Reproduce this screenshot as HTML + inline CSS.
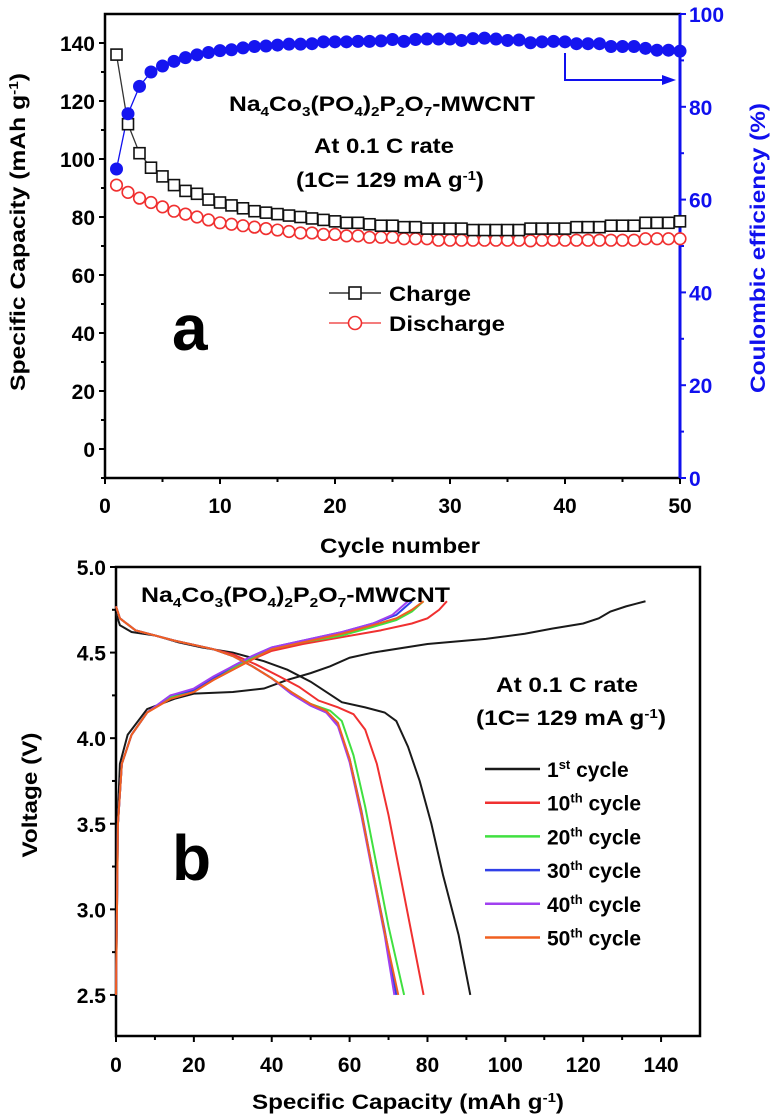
<!DOCTYPE html>
<html><head><meta charset="utf-8"><style>
html,body{margin:0;padding:0;background:#fff;}
svg{display:block;font-family:"Liberation Sans",Arial,sans-serif;font-weight:bold;}
</style></head><body>
<svg id="fig" width="772" height="1117" viewBox="0 0 772 1117" xmlns="http://www.w3.org/2000/svg">
<g id="pa"></g>
<g id="pb"></g>
</svg>
<script>
// ---- Panel a data ----
const cycles = Array.from({length:50},(_,i)=>i+1);
const chargeCap = [136,112,102,97,94,91,89,88,86,85,84,83,82,81.5,81,80.5,80,79.5,79,78.5,78,78,77.5,77,77,76.5,76.5,76,76,76,76,75.5,75.5,75.5,75.5,75.5,76,76,76,76,76.5,76.5,76.5,77,77,77,78,78,78,78.5];
const dischargeCap = [91,88.5,86.5,85,83.5,82,81,80,79,78,77.5,77,76.5,76,75.5,75,74.5,74.5,74,74,73.5,73.5,73,73,73,72.5,72.5,72.5,72,72,72,72,72,72,72,72,71.8,72,72,72,72,72,72,72,72,72,72.5,72.5,72.5,72.5];
const coulombicEff = [66.6,78.5,84.4,87.5,88.8,89.8,90.6,91.2,91.7,92.1,92.3,92.7,93,93.1,93.3,93.5,93.5,93.6,94,94,94,94.1,94.1,94.2,94.5,94.1,94.5,94.6,94.6,94.6,94.3,94.7,94.8,94.6,94.3,94.4,93.8,94,94.1,94,93.6,93.6,93.6,93,93,93,92.6,92.2,92.2,92];
const xTicksA = [0,10,20,30,40,50];
const yTicksL = [0,20,40,60,80,100,120,140];
const yTicksR = [0,20,40,60,80,100];

// ---- Panel b data: [capacity, voltage] pairs ----
const cycleNames = ["1st","10th","20th","30th","40th","50th"];
const cycleColors = ["#1a1a1a","#f03030","#40e040","#3040e8","#a040f0","#f06020"];
const charge1 = [[0,2.5],[0.4,3.5],[1,3.85],[3,4.02],[8,4.17],[15,4.23],[20,4.26],[30,4.27],[38,4.29],[44,4.34],[50,4.38],[55,4.42],[60,4.47],[66,4.5],[80,4.55],[95,4.58],[105,4.61],[112,4.64],[120,4.67],[124,4.7],[127,4.74],[131,4.77],[136,4.8]];
const charge10 = [[0,2.5],[0.5,3.5],[1.5,3.85],[4,4.02],[8,4.15],[14,4.23],[20,4.27],[25,4.34],[30,4.4],[35,4.46],[40,4.51],[48,4.55],[58,4.59],[68,4.63],[76,4.67],[80,4.7],[83,4.75],[85,4.8]];
const charge20 = [[0,2.5],[0.5,3.5],[1.5,3.85],[4,4.02],[8,4.15],[14,4.24],[20,4.28],[25,4.35],[30,4.41],[35,4.47],[40,4.52],[48,4.56],[58,4.6],[66,4.65],[72,4.69],[76,4.74],[79,4.8]];
const charge30 = [[0,2.5],[0.5,3.5],[1.5,3.85],[4,4.02],[8,4.15],[14,4.25],[20,4.28],[25,4.35],[30,4.42],[35,4.48],[40,4.53],[48,4.57],[58,4.62],[66,4.67],[72,4.72],[76,4.8]];
const charge40 = [[0,2.5],[0.5,3.5],[1.5,3.85],[4,4.02],[8,4.15],[14,4.25],[20,4.29],[25,4.36],[30,4.42],[35,4.48],[40,4.53],[48,4.57],[58,4.62],[66,4.67],[71,4.72],[75,4.8]];
const charge50 = [[0,2.5],[0.5,3.5],[1.5,3.85],[4,4.02],[8,4.15],[14,4.23],[20,4.27],[25,4.34],[30,4.4],[35,4.46],[40,4.52],[48,4.56],[58,4.61],[66,4.66],[72,4.7],[76,4.75],[79,4.8]];
const discharge1 = [[0,4.73],[1,4.66],[4,4.62],[10,4.6],[16,4.56],[22,4.53],[30,4.5],[38,4.45],[44,4.4],[50,4.33],[54,4.27],[58,4.21],[64,4.18],[69,4.15],[72,4.1],[75,3.95],[78,3.75],[81,3.5],[84,3.2],[88,2.85],[91,2.5]];
const discharge10 = [[0,4.77],[1,4.7],[5,4.63],[15,4.57],[25,4.52],[30,4.49],[36,4.43],[42,4.36],[47,4.3],[52,4.22],[57,4.18],[61,4.14],[64,4.05],[67,3.85],[70,3.55],[73,3.2],[76,2.85],[79,2.5]];
const discharge20 = [[0,4.77],[1,4.7],[5,4.63],[15,4.57],[25,4.52],[30,4.48],[35,4.42],[40,4.35],[45,4.27],[50,4.2],[55,4.16],[58,4.1],[61,3.9],[64,3.6],[67,3.25],[70,2.9],[74,2.5]];
const discharge30 = [[0,4.77],[1,4.7],[5,4.63],[15,4.57],[25,4.52],[30,4.48],[35,4.42],[40,4.35],[45,4.26],[50,4.19],[54,4.15],[57,4.08],[60,3.88],[63,3.58],[66,3.22],[69,2.88],[72,2.5]];
const discharge40 = [[0,4.77],[1,4.7],[5,4.63],[15,4.57],[25,4.52],[30,4.48],[35,4.42],[40,4.35],[45,4.26],[50,4.19],[54,4.15],[57,4.07],[60,3.86],[63,3.55],[66,3.2],[69,2.85],[71.5,2.5]];
const discharge50 = [[0,4.77],[1,4.7],[5,4.63],[15,4.57],[25,4.52],[30,4.48],[35,4.42],[40,4.35],[45,4.27],[50,4.2],[54,4.16],[57,4.09],[60,3.88],[63,3.57],[66,3.22],[69,2.87],[72.5,2.5]];
const xTicksB = [0,20,40,60,80,100,120,140];
const yTicksB = [2.5,3.0,3.5,4.0,4.5,5.0];

const NS="http://www.w3.org/2000/svg";
function mk(parent,tag,attrs,text){const e=document.createElementNS(NS,tag);for(const k in attrs)e.setAttribute(k,attrs[k]);if(text!==undefined)e.textContent=text;parent.appendChild(e);return e;}
const TF=21;

// ---------- Panel A ----------
const pa=document.getElementById('pa');
const ax0=105, ax1=680, ay0=478, ay1=14;
const xA=v=>ax0+(v-0)/50*(ax1-ax0);
const yL=v=>ay0-(v+10)/160*(ay0-ay1);
const yR=v=>ay0-v/100*(ay0-ay1);
let e;
e=mk(pa,'rect',{x:ax0,y:ay1,width:ax1-ax0,height:ay0-ay1,fill:'none',stroke:'#000','stroke-width':2.5});

e=mk(pa,'line',{x1:ax1,y1:ay1,x2:ax1,y2:ay0,stroke:'#1010ee','stroke-width':3});

xTicksA.forEach(t=>{
  mk(pa,'line',{x1:xA(t),y1:ay0,x2:xA(t),y2:ay0+6,stroke:'#000','stroke-width':2});
  e=mk(pa,'text',{x:xA(t),y:513,'text-anchor':'middle','font-size':TF},String(t));
  
});
for(let t=5;t<50;t+=10) mk(pa,'line',{x1:xA(t),y1:ay0,x2:xA(t),y2:ay0+4,stroke:'#000','stroke-width':2});
yTicksL.forEach(t=>{
  mk(pa,'line',{x1:ax0-6,y1:yL(t),x2:ax0,y2:yL(t),stroke:'#000','stroke-width':2});
  e=mk(pa,'text',{x:ax0-10,y:yL(t)+8,'text-anchor':'end','font-size':TF},String(t));
  
});
for(let t=-10;t<150;t+=20) mk(pa,'line',{x1:ax0-4,y1:yL(t),x2:ax0,y2:yL(t),stroke:'#000','stroke-width':2});
yTicksR.forEach(t=>{
  mk(pa,'line',{x1:ax1,y1:yR(t),x2:ax1+6,y2:yR(t),stroke:'#1010ee','stroke-width':2});
  e=mk(pa,'text',{x:ax1+9,y:yR(t)+8,'font-size':TF,fill:'#1010ee'},String(t));
  
});
for(let t=10;t<100;t+=20) mk(pa,'line',{x1:ax1,y1:yR(t),x2:ax1+4,y2:yR(t),stroke:'#1010ee','stroke-width':2});
e=mk(pa,'text',{x:400,y:553,'text-anchor':'middle','font-size':TF,textLength:160,lengthAdjust:'spacingAndGlyphs'},'Cycle number');

e=mk(pa,'text',{x:0,y:0,'text-anchor':'middle','font-size':TF,transform:'translate(25,232) rotate(-90)',textLength:318,lengthAdjust:'spacingAndGlyphs'});
e.innerHTML='Specific Capacity (mAh g<tspan font-size="13" dy="-7">-1</tspan><tspan dy="7">)</tspan>';

e=mk(pa,'text',{x:0,y:0,'text-anchor':'middle','font-size':TF,fill:'#1010ee',transform:'translate(765,248) rotate(-90)',textLength:290,lengthAdjust:'spacingAndGlyphs'},'Coulombic efficiency (%)');


function poly(parent,pts,color,w){return mk(parent,'polyline',{points:pts.map(p=>p.join(',')).join(' '),fill:'none',stroke:color,'stroke-width':w});}
e=poly(pa,cycles.map((c,i)=>[xA(c),yL(chargeCap[i])]),'#333',1.3);

e=poly(pa,cycles.map((c,i)=>[xA(c),yL(dischargeCap[i])]),'#f05050',1.3);

e=poly(pa,cycles.map((c,i)=>[xA(c),yR(coulombicEff[i])]),'#1010ee',1.3);

cycles.forEach((c,i)=>{
  e=mk(pa,'circle',{cx:xA(c),cy:yL(dischargeCap[i]),r:5.8,fill:'#fff',stroke:'#f03030','stroke-width':1.6});
  
});
cycles.forEach((c,i)=>{
  e=mk(pa,'rect',{x:xA(c)-5.5,y:yL(chargeCap[i])-5.5,width:11,height:11,fill:'#fff',stroke:'#111','stroke-width':1.6});
  
});
cycles.forEach((c,i)=>{
  e=mk(pa,'circle',{cx:xA(c),cy:yR(coulombicEff[i]),r:6.5,fill:'#1515f0'});
  
});
e=mk(pa,'polyline',{points:'565,53 565,80 668,80',fill:'none',stroke:'#1010ee','stroke-width':2});

mk(pa,'polygon',{points:'676,80 662,75 662,85',fill:'#1010ee'});
e=mk(pa,'text',{x:229,y:111,'font-size':TF,textLength:306,lengthAdjust:'spacingAndGlyphs'});
e.innerHTML='Na<tspan font-size="13" dy="5">4</tspan><tspan dy="-5">Co</tspan><tspan font-size="13" dy="5">3</tspan><tspan dy="-5">(PO</tspan><tspan font-size="13" dy="5">4</tspan><tspan dy="-5">)</tspan><tspan font-size="13" dy="5">2</tspan><tspan dy="-5">P</tspan><tspan font-size="13" dy="5">2</tspan><tspan dy="-5">O</tspan><tspan font-size="13" dy="5">7</tspan><tspan dy="-5">-MWCNT</tspan>';

e=mk(pa,'text',{x:384,y:153,'text-anchor':'middle','font-size':TF,textLength:140,lengthAdjust:'spacingAndGlyphs'},'At 0.1 C rate');

e=mk(pa,'text',{x:296,y:187,'font-size':TF,textLength:188,lengthAdjust:'spacingAndGlyphs'});
e.innerHTML='(1C= 129 mA g<tspan font-size="13" dy="-7">-1</tspan><tspan dy="7">)</tspan>';

mk(pa,'line',{x1:329,y1:293,x2:381,y2:293,stroke:'#333','stroke-width':1.5});
e=mk(pa,'rect',{x:349,y:287,width:12,height:12,fill:'#fff',stroke:'#111','stroke-width':1.6});

e=mk(pa,'text',{x:389,y:301,'font-size':TF,textLength:82,lengthAdjust:'spacingAndGlyphs'},'Charge');

mk(pa,'line',{x1:329,y1:323,x2:381,y2:323,stroke:'#f05050','stroke-width':1.5});
e=mk(pa,'circle',{cx:355,cy:323,r:6.5,fill:'#fff',stroke:'#f03030','stroke-width':1.6});

e=mk(pa,'text',{x:389,y:331,'font-size':TF,textLength:116,lengthAdjust:'spacingAndGlyphs'},'Discharge');

e=mk(pa,'text',{x:172,y:350,'font-size':64},'a');


// ---------- Panel B ----------
const pb=document.getElementById('pb');
const bx0=116, bx1=700, by0=1036, by1=567;
const xB=v=>bx0+v/150*(bx1-bx0);
const yB=v=>by0-(v-2.26)/(5.0-2.26)*(by0-by1);
e=mk(pb,'rect',{x:bx0,y:by1,width:bx1-bx0,height:by0-by1,fill:'none',stroke:'#000','stroke-width':2.5});

xTicksB.forEach(t=>{
  mk(pb,'line',{x1:xB(t),y1:by0,x2:xB(t),y2:by0+6,stroke:'#000','stroke-width':2});
  e=mk(pb,'text',{x:xB(t),y:1072,'text-anchor':'middle','font-size':TF},String(t));
  
});
for(let t=10;t<150;t+=20) mk(pb,'line',{x1:xB(t),y1:by0,x2:xB(t),y2:by0+4,stroke:'#000','stroke-width':2});
yTicksB.forEach(t=>{
  mk(pb,'line',{x1:bx0-6,y1:yB(t),x2:bx0,y2:yB(t),stroke:'#000','stroke-width':2});
  e=mk(pb,'text',{x:bx0-10,y:yB(t)+8,'text-anchor':'end','font-size':TF},t.toFixed(1));
  
});
for(let t=2.75;t<5;t+=0.5) mk(pb,'line',{x1:bx0-4,y1:yB(t),x2:bx0,y2:yB(t),stroke:'#000','stroke-width':2});
e=mk(pb,'text',{x:0,y:0,'text-anchor':'middle','font-size':TF,transform:'translate(37,795) rotate(-90)',textLength:125,lengthAdjust:'spacingAndGlyphs'},'Voltage (V)');

e=mk(pb,'text',{x:252,y:1109,'font-size':TF,textLength:312,lengthAdjust:'spacingAndGlyphs'});
e.innerHTML='Specific Capacity (mAh g<tspan font-size="13" dy="-7">-1</tspan><tspan dy="7">)</tspan>';


const chargeSets=[charge1,charge10,charge20,charge30,charge40,charge50];
const dischargeSets=[discharge1,discharge10,discharge20,discharge30,discharge40,discharge50];
[0,1,2,3,4,5].forEach(i=>{
  e=poly(pb,chargeSets[i].map(p=>[xB(p[0]),yB(p[1])]),cycleColors[i],2);
  
  e=poly(pb,dischargeSets[i].map(p=>[xB(p[0]),yB(p[1])]),cycleColors[i],2);
  
});
e=mk(pb,'text',{x:141,y:602,'font-size':TF,textLength:309,lengthAdjust:'spacingAndGlyphs'});
e.innerHTML='Na<tspan font-size="13" dy="5">4</tspan><tspan dy="-5">Co</tspan><tspan font-size="13" dy="5">3</tspan><tspan dy="-5">(PO</tspan><tspan font-size="13" dy="5">4</tspan><tspan dy="-5">)</tspan><tspan font-size="13" dy="5">2</tspan><tspan dy="-5">P</tspan><tspan font-size="13" dy="5">2</tspan><tspan dy="-5">O</tspan><tspan font-size="13" dy="5">7</tspan><tspan dy="-5">-MWCNT</tspan>';

e=mk(pb,'text',{x:567,y:692,'text-anchor':'middle','font-size':TF,textLength:142,lengthAdjust:'spacingAndGlyphs'},'At 0.1 C rate');

e=mk(pb,'text',{x:476,y:725,'font-size':TF,textLength:190,lengthAdjust:'spacingAndGlyphs'});
e.innerHTML='(1C= 129 mA g<tspan font-size="13" dy="-7">-1</tspan><tspan dy="7">)</tspan>';

cycleNames.forEach((n,i)=>{
  const y=769+i*33.7;
  const num=n.replace(/[a-z]+/,''), suf=n.replace(/[0-9]+/,'');
  e=mk(pb,'line',{x1:485,y1:y,x2:540,y2:y,stroke:cycleColors[i],'stroke-width':2.5});
  
  e=mk(pb,'text',{x:547,y:y+8,'font-size':TF});
  e.innerHTML=num+'<tspan font-size="13" dy="-8">'+suf+'</tspan><tspan dy="8"> cycle</tspan>';
  
});
e=mk(pb,'text',{x:172,y:880,'font-size':64},'b');

</script>
</body></html>
